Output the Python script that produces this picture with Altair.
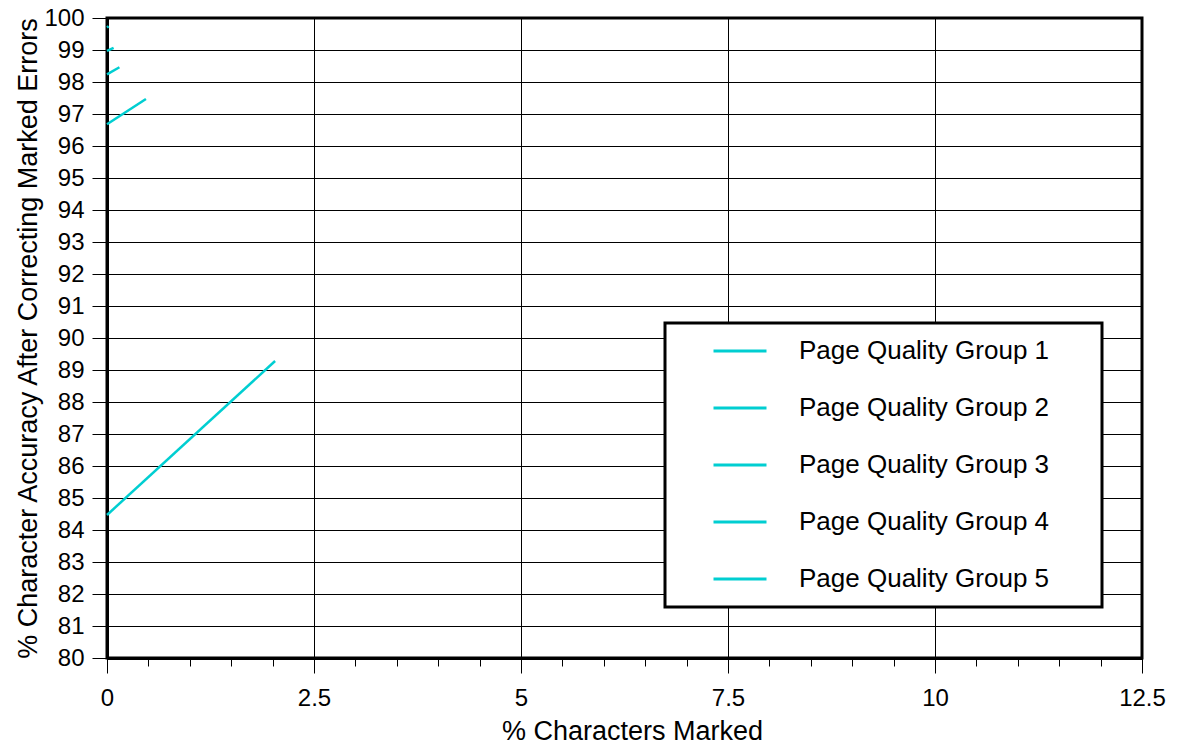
import altair as alt
import pandas as pd

# ---- data ----
groups = ["Page Quality Group 1", "Page Quality Group 2", "Page Quality Group 3",
          "Page Quality Group 4", "Page Quality Group 5"]
g1_x = [0.0, 0.02]
g1_y = [99.70, 99.74]
g2_x = [0.0, 0.08]
g2_y = [98.97, 99.07]
g3_x = [0.0, 0.15]
g3_y = [98.24, 98.46]
g4_x = [0.0, 0.47]
g4_y = [96.68, 97.47]
g5_x = [0.0, 2.03]
g5_y = [84.47, 89.28]

x_tick_values = [0, 0.5, 1, 1.5, 2, 2.5, 3, 3.5, 4, 4.5, 5, 5.5, 6, 6.5, 7, 7.5,
                 8, 8.5, 9, 9.5, 10, 10.5, 11, 11.5, 12, 12.5]
y_tick_values = [80, 81, 82, 83, 84, 85, 86, 87, 88, 89, 90, 91, 92, 93, 94, 95,
                 96, 97, 98, 99, 100]

series = [(groups[0], g1_x, g1_y), (groups[1], g2_x, g2_y), (groups[2], g3_x, g3_y),
          (groups[3], g4_x, g4_y), (groups[4], g5_x, g5_y)]
rows = []
for name, xs, ys in series:
    for xv, yv in zip(xs, ys):
        rows.append({"group": name, "x": xv, "y": yv})
df = pd.DataFrame(rows)

FONT = "Liberation Sans"
CYAN = "#00CED1"
major = "datum.value % 2.5 === 0"

chart = alt.Chart(df).mark_line(strokeWidth=2.5).encode(
    x=alt.X("x:Q",
            scale=alt.Scale(domain=[0, 12.5], nice=False, zero=False),
            axis=alt.Axis(
                title="% Characters Marked",
                values=x_tick_values,
                format="~g",
                labelExpr=f"{major} ? datum.label : ''",
                tickSize={"condition": {"test": major, "value": 15}, "value": 8},
                gridOpacity={"condition": {"test": major, "value": 1}, "value": 0},
                labelPadding=13,
                titlePadding=8,
                titleX=525,
            )),
    y=alt.Y("y:Q",
            scale=alt.Scale(domain=[80, 100], nice=False, zero=False),
            axis=alt.Axis(
                title="% Character Accuracy After Correcting Marked Errors",
                values=y_tick_values,
                tickSize=15,
                labelPadding=8,
                titlePadding=1,
            )),
    color=alt.Color("group:N",
                    scale=alt.Scale(domain=groups, range=[CYAN] * 5),
                    legend=alt.Legend(
                        title="\u200b",
                        titleOrient="right",
                        titlePadding=45,
                        titleFontSize=10,
                        orient="none",
                        legendX=558,
                        legendY=305,
                        direction="vertical",
                        symbolType="stroke",
                        symbolSize=2809,
                        symbolStrokeWidth=3,
                        symbolOffset=39,
                        labelOffset=31,
                        labelFontSize=26,
                        labelFont=FONT,
                        labelColor="black",
                        labelLimit=500,
                        clipHeight=40,
                        padding=8,
                        rowPadding=17,
                        strokeColor="black",
                        fillColor="white",
                    )),
).properties(
    width=1035,
    height=640,
    autosize=alt.AutoSizeParams(type="none"),
    padding={"left": 99, "top": 10, "right": 27, "bottom": 87},
).configure_view(
    stroke="black", strokeWidth=3
).configure_axis(
    grid=True,
    gridColor="black",
    gridWidth=1,
    domainColor="black",
    domainWidth=3,
    tickColor="black",
    tickWidth=1,
    labelFont=FONT,
    labelFontSize=24,
    labelColor="black",
    labelFlush=False,
    labelOverlap=False,
    titleFont=FONT,
    titleFontSize=27,
    titleFontWeight="normal",
    titleColor="black",
).configure_legend(
    strokeWidth=3
)

chart.save("out.html", embed_options={"renderer": "svg", "actions": False})
